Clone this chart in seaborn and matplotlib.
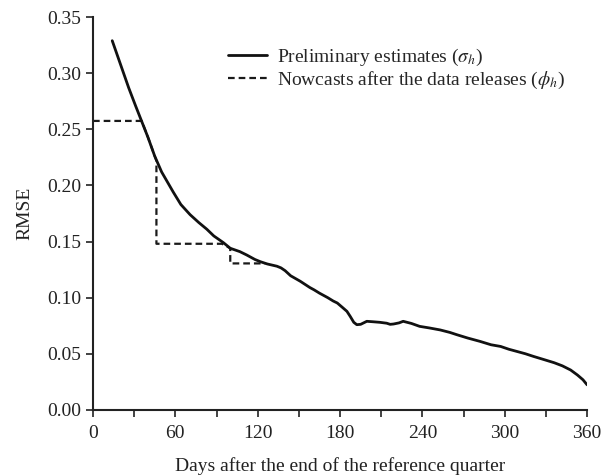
import matplotlib
matplotlib.use("Agg")
import matplotlib.pyplot as plt
import seaborn as sns
import pandas as pd
from matplotlib.ticker import MultipleLocator

# Preliminary estimates (sigma_h)
sigma_days = [14, 20, 26, 31, 35.5, 40, 45, 50, 58.5, 64, 70.7, 77, 82.9, 88, 95, 100,
              107, 112, 118, 122, 127, 134, 137, 140, 144, 151, 158, 161, 165, 171, 175,
              178, 182, 185, 187.4, 190, 192.2, 195, 199.5, 204, 209, 214, 216.5, 219,
              223, 226, 232, 238, 245, 253, 260, 265, 273, 282, 290, 297, 303, 309, 315,
              321, 328, 336, 342, 348, 353, 357, 360]
sigma_rmse = [0.329, 0.308, 0.287, 0.271, 0.257, 0.243, 0.226, 0.212, 0.194, 0.183, 0.174,
              0.167, 0.161, 0.155, 0.149, 0.144, 0.141, 0.138, 0.134, 0.132, 0.130, 0.128,
              0.1265, 0.124, 0.1195, 0.1146, 0.109, 0.107, 0.104, 0.100, 0.097, 0.0952,
              0.091, 0.0878, 0.0833, 0.078, 0.0759, 0.0762, 0.0789, 0.0785, 0.078, 0.0772,
              0.0762, 0.0765, 0.0775, 0.0789, 0.077, 0.0744, 0.073, 0.0712, 0.069, 0.067,
              0.064, 0.061, 0.058, 0.0565, 0.054, 0.052, 0.050, 0.0476, 0.045, 0.0420,
              0.0392, 0.0355, 0.0310, 0.0268, 0.0223]

# Nowcasts after the data releases (phi_h)
phi_days = [0, 35.5, 40, 46.2, 46.2, 94, 100, 100, 125.5]
phi_rmse = [0.2575, 0.2575, 0.243, 0.222, 0.148, 0.148, 0.144, 0.1305, 0.1305]

sigma_label = r"Preliminary estimates ($\sigma_h$)"
phi_label = r"Nowcasts after the data releases ($\phi_h$)"

x_ticks = [0, 60, 120, 180, 240, 300, 360]
y_ticks = [0.00, 0.05, 0.10, 0.15, 0.20, 0.25, 0.30, 0.35]

sns.set_style("ticks")
plt.rcParams["font.family"] = ["Liberation Serif", "DejaVu Serif"]
plt.rcParams["mathtext.fontset"] = "stix"

fig = plt.figure(figsize=(6.04, 4.76), dpi=100)
ax = fig.add_axes([0.154, 0.139, 0.818, 0.825])

df_s = pd.DataFrame({"day": sigma_days, "rmse": sigma_rmse})
df_p = pd.DataFrame({"day": phi_days, "rmse": phi_rmse})

sns.lineplot(data=df_p, x="day", y="rmse", sort=False, estimator=None, ax=ax,
             color="#1a1a1a", linewidth=1.6, linestyle=(0, (3.0, 1.8)),
             label=phi_label, zorder=2)
sns.lineplot(data=df_s, x="day", y="rmse", sort=False, estimator=None, ax=ax,
             color="#111111", linewidth=2.0, label=sigma_label, zorder=3)

ax.set_xlim(0, 360)
ax.set_ylim(0, 0.35)
ax.set_xticks(x_ticks)
ax.set_yticks(y_ticks)
ax.set_yticklabels([f"{v:.2f}" for v in y_ticks])
ax.xaxis.set_minor_locator(MultipleLocator(30))
ax.tick_params(axis="both", which="both", direction="out", length=5, width=1.2,
               labelsize=14, color="#222222", labelcolor="#222222")
ax.tick_params(axis="x", pad=6)
for s in ["top", "right"]:
    ax.spines[s].set_visible(False)
for s in ["left", "bottom"]:
    ax.spines[s].set_linewidth(1.5)
    ax.spines[s].set_color("#222222")

ax.set_xlabel("Days after the end of the reference quarter", fontsize=14,
              color="#222222", labelpad=11)
ax.set_ylabel("RMSE", fontsize=14, color="#222222", labelpad=10)

handles, labels = ax.get_legend_handles_labels()
order = [labels.index(sigma_label), labels.index(phi_label)]
ax.legend([handles[i] for i in order], [labels[i] for i in order],
          loc="upper left", bbox_to_anchor=(0.273, 0.925), frameon=False,
          fontsize=14, handlelength=2.0, handletextpad=0.55, labelspacing=0.1,
          borderaxespad=0, borderpad=0)

fig.savefig("out.png", dpi=100)
